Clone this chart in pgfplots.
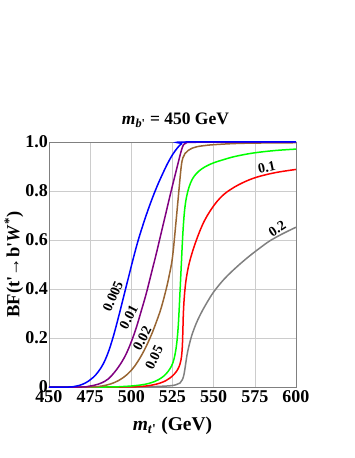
\documentclass[border=0pt]{standalone}
\usepackage{fontspec}
\setmainfont{Liberation Serif}
\usepackage{pgfplots}
\pgfplotsset{compat=1.18}
\definecolor{mmaBrown}{rgb}{0.6,0.4,0.2}
\definecolor{mmaPurple}{rgb}{0.5,0,0.5}
\definecolor{mmaGray}{rgb}{0.5,0.5,0.5}
\definecolor{gridgray}{HTML}{CCCCCC}
\definecolor{framegray}{HTML}{808080}

\begin{document}
\begin{tikzpicture}
\path[use as bounding box] (0,0) rectangle (354pt,458pt);
\begin{axis}[
    at={(49pt,71pt)}, anchor=south west,
    scale only axis, width=247pt, height=245pt,
    xmin=450, xmax=600, ymin=0, ymax=1,
    xtick={450,475,500,525,550,575,600},
    xticklabels={450,475,500,525,550,575,600},
    ytick={0,0.2,0.4,0.6,0.8,1},
    yticklabels={0,0.2,0.4,0.6,0.8,1.0},
    major tick length=0pt,
    grid=major,
    grid style={draw=gridgray, line width=0.6pt},
    axis line style={draw=framegray, line width=0.8pt},
    ticklabel style={font=\bfseries\fontsize{18}{20}\selectfont},
    yticklabel style={inner sep=1pt},
    clip=false,
    title={\textbf{\textit{m}\textsubscript{\textit{b}\textquotesingle} = 450 GeV}},
    title style={font=\fontsize{17.5}{20}\selectfont, at={(axis description cs:0.5,1)}, anchor=base, yshift=11pt, xshift=3pt},
    xlabel={\textbf{\textit{m}\textsubscript{\textit{t}\textquotesingle} (GeV)}},
    xlabel style={font=\fontsize{19.5}{22}\selectfont, at={(axis description cs:0.5,0)}, anchor=base, yshift=-43pt},
    ylabel={\textbf{BF(t\textquotesingle→b\textquotesingle\textit{W}\textsuperscript{*})}},
    ylabel style={font=\fontsize{18.5}{21}\selectfont, at={(axis description cs:-0.142,0.5)}, anchor=center},
    every axis plot/.append style={line width=1.5pt, smooth, tension=0.6},
]
% 0.2
\addplot[mmaGray] coordinates {
(450,0)(505,0)(515,0.002)(523.5,0.005)(527,0.009)(529.5,0.016)(531,0.03)(532,0.052)(532.9,0.09)(533.8,0.13)(535,0.168)(536.6,0.208)(539,0.253)(541.7,0.293)(544.5,0.328)(547.3,0.36)(550,0.388)(555,0.43)(560,0.465)(566,0.502)(572,0.536)(578,0.567)(584,0.596)(592,0.626)(600,0.652)
};
% 0.1
\addplot[red] coordinates {
(450,0)(495,0)(505,0.002)(512,0.007)(517.4,0.016)(521,0.026)(523.5,0.037)(526,0.052)(528.2,0.072)(529.6,0.095)(530.5,0.125)(531,0.17)(531.3,0.23)(531.6,0.3)(532.2,0.37)(533.2,0.435)(534.8,0.495)(536.8,0.545)(539,0.59)(541.5,0.635)(544.5,0.68)(548,0.72)(552,0.757)(556,0.785)(560,0.805)(565,0.825)(570,0.841)(575,0.854)(582,0.867)(590,0.878)(600,0.888)
};
% 0.05
\addplot[green] coordinates {
(450,0)(485,0)(495,0.002)(503,0.006)(509,0.012)(514,0.022)(518,0.036)(521,0.053)(523.5,0.075)(525.3,0.1)(526.6,0.135)(527.6,0.18)(528.4,0.24)(529,0.31)(529.5,0.38)(530,0.45)(530.5,0.52)(531,0.59)(531.6,0.66)(532.4,0.725)(533.5,0.775)(535,0.815)(537,0.848)(539.5,0.871)(542.5,0.889)(546,0.903)(550,0.915)(556,0.928)(563,0.941)(574,0.955)(587,0.965)(600,0.971)
};
% 0.02
\addplot[mmaBrown] coordinates {
(450,0)(475,0)(480,0.002)(485,0.008)(490,0.019)(495,0.038)(500,0.068)(504,0.105)(508,0.152)(512,0.21)(515,0.262)(518,0.32)(521,0.395)(523,0.455)(525,0.53)(527,0.665)(529,0.81)(530.3,0.9)(531.3,0.935)(532.6,0.953)(534.6,0.966)(537,0.975)(540,0.981)(544,0.985)(550,0.989)(564,0.994)(580,0.996)(600,0.997)
};
% 0.01
\addplot[mmaPurple] coordinates {
(450,0)(470,0)(474,0.003)(478,0.008)(482,0.017)(486,0.033)(490,0.062)(494,0.1)(497,0.137)(500,0.185)(503,0.242)(506,0.31)(509,0.38)(512,0.46)(515,0.54)(518,0.625)(521,0.71)(524,0.795)(527,0.876)(529,0.93)(530.5,0.968)(531.8,0.99)(533.5,0.997)(540,0.999)(600,1)
};
% 0.005
\addplot[blue] coordinates {
(450,0)(462,0)(466,0.003)(470,0.01)(474,0.024)(477,0.04)(480,0.063)(483,0.095)(486,0.142)(489,0.205)(492,0.28)(495,0.36)(498,0.44)(501,0.52)(504,0.595)(507,0.66)(510,0.72)(513,0.775)(516,0.825)(519,0.87)(522,0.912)(525,0.948)(528,0.976)(530.5,0.993)(533,1)(600,1)
};
% curve labels
\begin{scope}[every node/.style={font=\bfseries\fontsize{14}{16}\selectfont, inner sep=0pt}]
\node[rotate=66] at (axis cs:488.8,0.37) {0.005};
\node[rotate=62] at (axis cs:498.4,0.285) {0.01};
\node[rotate=62] at (axis cs:506.6,0.198) {0.02};
\node[rotate=64] at (axis cs:513.8,0.12) {0.05};
\node[rotate=12] at (axis cs:582.2,0.897) {0.1};
\node[rotate=33] at (axis cs:588.6,0.645) {0.2};
\end{scope}
\end{axis}
\end{tikzpicture}
\end{document}
